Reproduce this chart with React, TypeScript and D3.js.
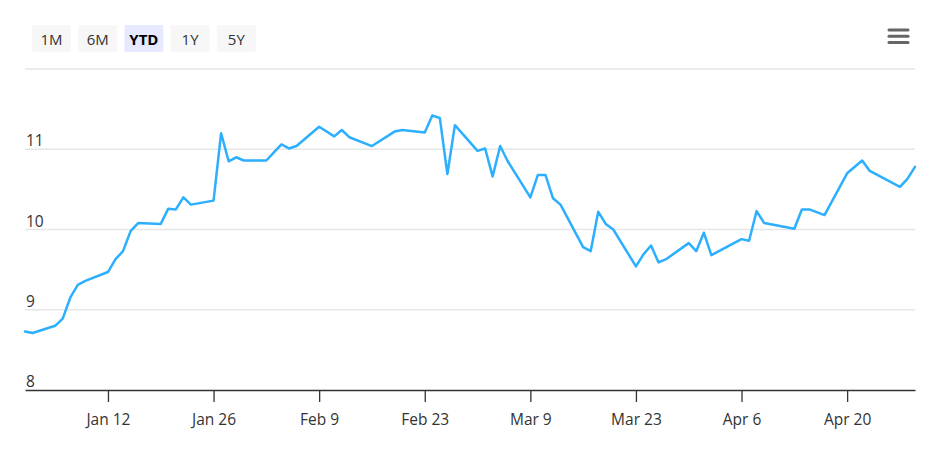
import React, { useEffect, useRef } from 'react';
import * as d3 from 'd3';

// price series (trading days)
const dates: string[] = [
  '2015-01-01', '2015-01-02', '2015-01-05', '2015-01-06', '2015-01-07', '2015-01-08', '2015-01-09',
  '2015-01-12', '2015-01-13', '2015-01-14', '2015-01-15', '2015-01-16', '2015-01-19', '2015-01-20',
  '2015-01-21', '2015-01-22', '2015-01-23', '2015-01-26', '2015-01-27', '2015-01-28', '2015-01-29',
  '2015-01-30', '2015-02-02', '2015-02-03', '2015-02-04', '2015-02-05', '2015-02-06', '2015-02-09',
  '2015-02-11', '2015-02-12', '2015-02-13', '2015-02-16', '2015-02-19', '2015-02-20', '2015-02-23',
  '2015-02-24', '2015-02-25', '2015-02-26', '2015-02-27', '2015-03-02', '2015-03-03', '2015-03-04',
  '2015-03-05', '2015-03-06', '2015-03-09', '2015-03-10', '2015-03-11', '2015-03-12', '2015-03-13',
  '2015-03-16', '2015-03-17', '2015-03-18', '2015-03-19', '2015-03-20', '2015-03-23', '2015-03-24',
  '2015-03-25', '2015-03-26', '2015-03-27', '2015-03-30', '2015-03-31', '2015-04-01', '2015-04-02',
  '2015-04-06', '2015-04-07', '2015-04-08', '2015-04-09', '2015-04-13', '2015-04-14', '2015-04-15',
  '2015-04-17', '2015-04-20', '2015-04-22', '2015-04-23', '2015-04-27', '2015-04-28', '2015-04-29',
];

const prices: number[] = [
  8.73, 8.71, 8.8, 8.89, 9.15, 9.31, 9.36,
  9.47, 9.63, 9.73, 9.98, 10.08, 10.07, 10.26,
  10.25, 10.4, 10.31, 10.36, 11.2, 10.85, 10.9,
  10.86, 10.86, 10.96, 11.06, 11.01, 11.04, 11.28,
  11.16, 11.24, 11.15, 11.04, 11.22, 11.24, 11.21,
  11.42, 11.39, 10.69, 11.3, 10.98, 11.01, 10.66,
  11.04, 10.85, 10.4, 10.68, 10.68, 10.39, 10.31,
  9.78, 9.73, 10.22, 10.07, 10.0, 9.54, 9.69,
  9.8, 9.59, 9.63, 9.83, 9.73, 9.96, 9.68,
  9.88, 9.86, 10.23, 10.08, 10.01, 10.25, 10.25,
  10.18, 10.7, 10.86, 10.73, 10.53, 10.63, 10.78,
];

const xTickDates: string[] = [
  '2015-01-12', '2015-01-26', '2015-02-09', '2015-02-23',
  '2015-03-09', '2015-03-23', '2015-04-06', '2015-04-20',
];
const yTicks: number[] = [8, 9, 10, 11, 12];
const rangeButtons: string[] = ['1M', '6M', 'YTD', '1Y', '5Y'];
const selectedRange = 'YTD';

const W = 940;
const H = 456;
const FONT = '"Open Sans", "DejaVu Sans", sans-serif';

const App: React.FC = () => {
  const svgRef = useRef<SVGSVGElement | null>(null);

  useEffect(() => {
    const svg = d3.select(svgRef.current);
    svg.selectAll('*').remove();

    const parse = d3.utcParse('%Y-%m-%d');
    const data = dates.map((d, i) => ({ date: parse(d)!, value: prices[i] }));

    const plot = { left: 25, right: 915, top: 69, bottom: 390 };

    const x = d3
      .scaleUtc()
      .domain([data[0].date, data[data.length - 1].date])
      .range([plot.left, plot.right]);

    const y = d3.scaleLinear().domain([8, 12]).range([plot.bottom, plot.top]);

    // range selector buttons
    const btn = svg
      .append('g')
      .selectAll('g')
      .data(rangeButtons)
      .join('g')
      .attr('transform', (_d, i) => `translate(${32 + i * 46.2},25)`);
    btn
      .append('rect')
      .attr('width', 39)
      .attr('height', 27)
      .attr('rx', 2)
      .attr('fill', (d) => (d === selectedRange ? '#e6e9ff' : '#f7f7f7'));
    btn
      .append('text')
      .attr('x', 19.5)
      .attr('y', 20)
      .attr('text-anchor', 'middle')
      .attr('font-family', FONT)
      .attr('font-size', 15)
      .attr('font-weight', (d) => (d === selectedRange ? 700 : 400))
      .attr('fill', (d) => (d === selectedRange ? '#000' : '#333'))
      .text((d) => d);

    // hamburger menu
    svg
      .append('g')
      .attr('stroke', '#666')
      .attr('stroke-width', 3)
      .attr('stroke-linecap', 'round')
      .selectAll('line')
      .data([0, 1, 2])
      .join('line')
      .attr('x1', 889)
      .attr('x2', 908)
      .attr('y1', (d) => 30 + d * 6.3)
      .attr('y2', (d) => 30 + d * 6.3);

    // grid lines
    svg
      .append('g')
      .selectAll('line')
      .data(yTicks.filter((t) => t !== 8))
      .join('line')
      .attr('x1', plot.left)
      .attr('x2', plot.right)
      .attr('y1', (d) => y(d))
      .attr('y2', (d) => y(d))
      .attr('stroke', '#e6e6e6')
      .attr('stroke-width', 1.3);

    // y labels (top one hidden)
    svg
      .append('g')
      .selectAll('text')
      .data(yTicks.slice(0, -1))
      .join('text')
      .attr('x', plot.left + 1)
      .attr('y', (d) => y(d) - 3)
      .attr('font-family', FONT)
      .attr('font-size', 15.5)
      .attr('fill', '#333')
      .text((d) => d);

    // x axis
    const xAxis = svg
      .append('g')
      .attr('transform', `translate(0,${plot.bottom})`)
      .call(
        d3
          .axisBottom(x)
          .tickValues(xTickDates.map((d) => parse(d)!))
          .tickFormat((d) => d3.utcFormat('%b %-d')(d as Date))
          .tickSize(12)
          .tickSizeOuter(0)
          .tickPadding(12)
      );
    xAxis.select('.domain').attr('stroke', '#333').attr('stroke-width', 1.3);
    xAxis.selectAll('.tick line').attr('stroke', '#333').attr('stroke-width', 1.3);
    xAxis
      .selectAll('.tick text')
      .attr('fill', '#333')
      .attr('font-family', FONT)
      .attr('font-size', 15.5);

    // price line
    const line = d3
      .line<{ date: Date; value: number }>()
      .x((d) => x(d.date))
      .y((d) => y(d.value));

    svg
      .append('path')
      .datum(data)
      .attr('fill', 'none')
      .attr('stroke', '#2caffe')
      .attr('stroke-width', 2.5)
      .attr('stroke-linejoin', 'round')
      .attr('stroke-linecap', 'round')
      .attr('d', line);
  }, []);

  return (
    <svg
      ref={svgRef}
      width={W}
      height={H}
      style={{ position: 'absolute', left: 0, top: 0, background: '#fff' }}
    />
  );
};

export default App;
